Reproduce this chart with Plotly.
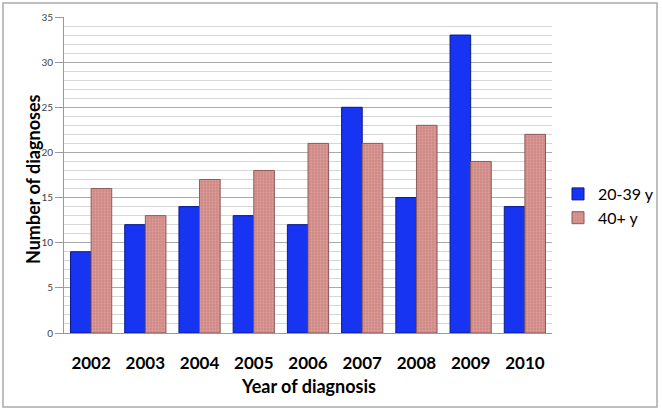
import plotly.graph_objects as go

years = ["2002", "2003", "2004", "2005", "2006", "2007", "2008", "2009", "2010"]
young = [9, 12, 14, 13, 12, 25, 15, 33, 14]
older = [16, 13, 17, 18, 21, 21, 23, 19, 22]
y_ticks = [0, 5, 10, 15, 20, 25, 30, 35]

FONT = "Lato, Open Sans, sans-serif"

fig = go.Figure()
fig.add_trace(go.Bar(
    x=years, y=young, name="20-39 y",
    marker=dict(color="#1634f2", line=dict(color="#0b1a8a", width=1)),
))
fig.add_trace(go.Bar(
    x=years, y=older, name="40+ y",
    marker=dict(color="#d08a86", line=dict(color="#8c5a58", width=1),
                pattern=dict(shape=".", fgcolor="#e8b4b0", size=3, solidity=0.3)),
))

W, H = 662, 412
L, R, T, B = 64, 110, 17, 79
pw, ph = W - L - R, H - T - B

fig.update_layout(
    width=W, height=H,
    margin=dict(l=L, r=R, t=T, b=B, autoexpand=False),
    paper_bgcolor="white", plot_bgcolor="white",
    barmode="group", bargap=0.24, bargroupgap=0.0,
    font=dict(family=FONT, color="black"),
    showlegend=True,
    legend=dict(xref="container", yref="container",
                x=558 / W, y=1 - 206 / H, xanchor="left", yanchor="middle",
                font=dict(size=16, family=FONT), itemwidth=30,
                tracegroupgap=18, bgcolor="rgba(0,0,0,0)"),
    xaxis=dict(
        automargin=False,
        tickfont=dict(size=17, family=FONT),
        tickprefix="<b>", ticksuffix="</b>",
        showline=True, linecolor="#999999", linewidth=1,
        ticks="", showgrid=False, ticklabelstandoff=15,
    ),
    yaxis=dict(
        automargin=False,
        range=[0, 35], tickvals=y_ticks,
        tickfont=dict(size=10, color="#444444"),
        showline=True, linecolor="#999999", linewidth=1,
        ticks="outside", ticklen=8, tickcolor="#999999",
        showgrid=True, gridcolor="#aaaaaa", gridwidth=1,
        minor=dict(dtick=1, showgrid=True, gridcolor="#d6d6d6", gridwidth=1, ticks=""),
        zeroline=False,
    ),
    annotations=[
        dict(text="<b>Year of diagnosis</b>", xref="paper", yref="paper",
             x=(308 - L) / pw, y=-(386 - (H - B)) / ph, xanchor="center", yanchor="middle",
             showarrow=False, font=dict(size=18, family=FONT)),
        dict(text="<b>Number of diagnoses</b>", xref="paper", yref="paper",
             x=(33 - L) / pw, y=1 - (179 - T) / ph, xanchor="center", yanchor="middle",
             textangle=-90, showarrow=False, font=dict(size=18, family=FONT)),
    ],
    shapes=[dict(
        type="rect", xref="paper", yref="paper",
        x0=(3 - L) / pw, x1=(657 - L) / pw,
        y0=-(407 - (H - B)) / ph, y1=1 + (T - 3) / ph,
        line=dict(color="#aaaaaa", width=1.5), layer="below",
    )],
)

fig.write_html("out.html", config={"displayModeBar": False},
               post_script="document.body.style.margin='0px';document.body.style.overflow='hidden';")
